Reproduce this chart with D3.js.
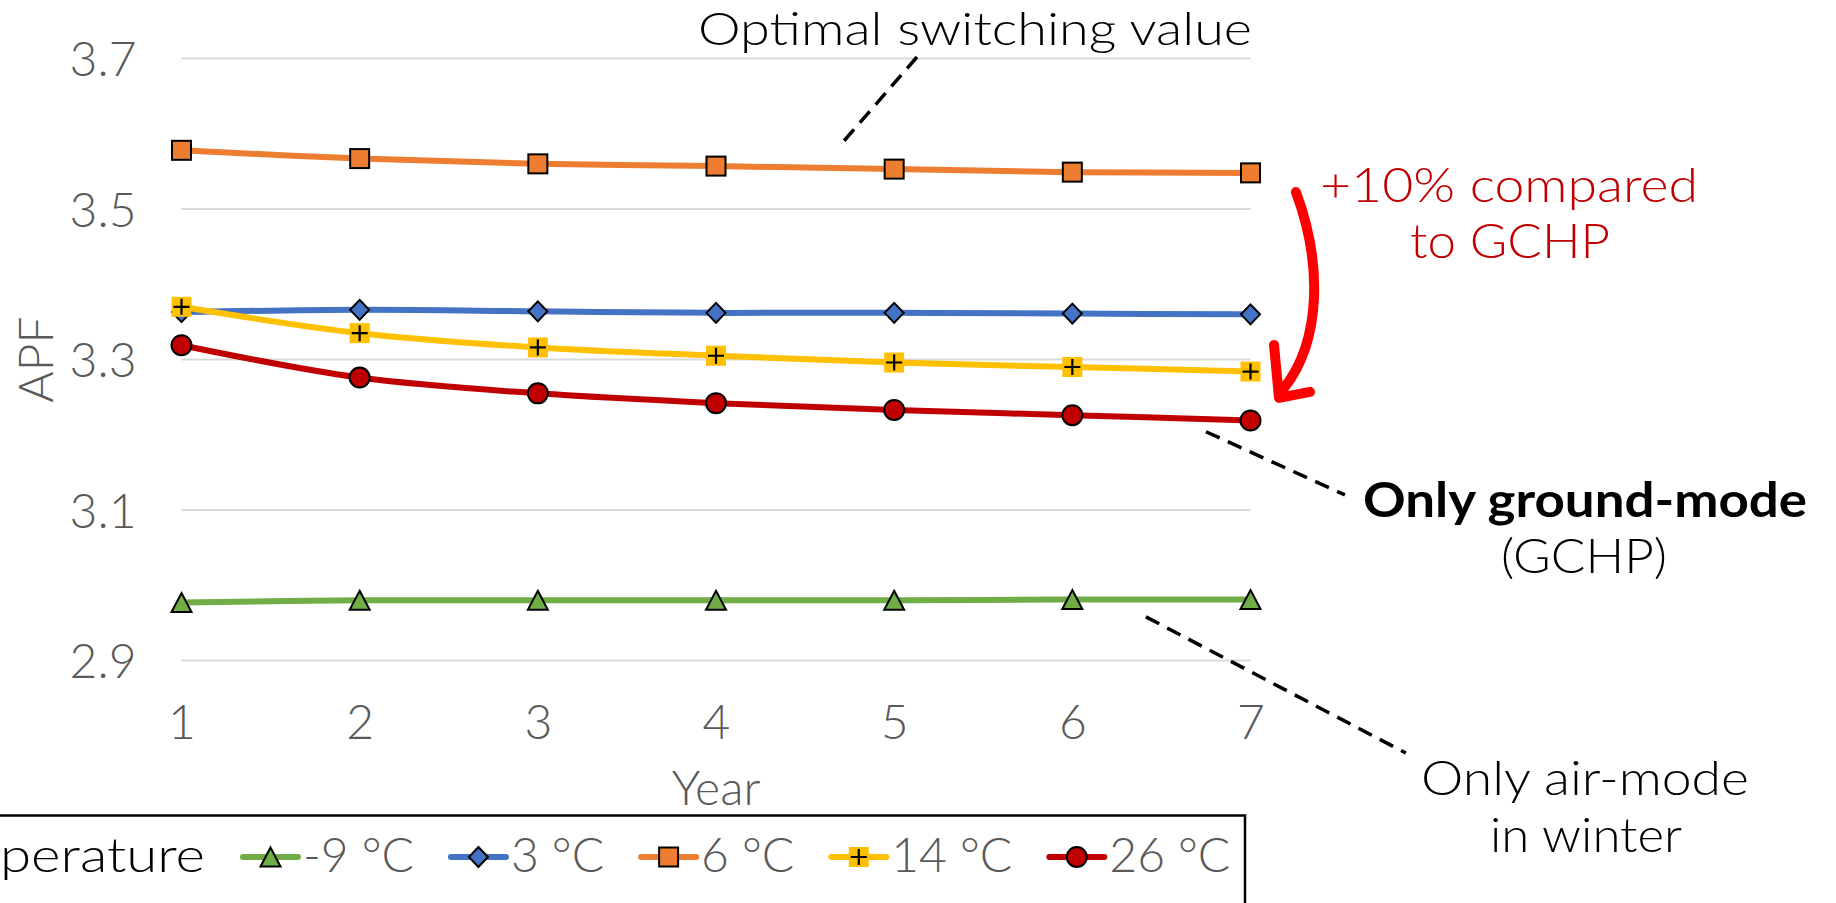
<!DOCTYPE html>
<html>
<head>
<meta charset="utf-8">
<script src="https://cdn.jsdelivr.net/npm/d3@7"></script>
<style>
  html, body { margin: 0; padding: 0; background: #fff; overflow: hidden; }
  svg { display: block; font-family: "Lato", "Liberation Sans", Arial, sans-serif; font-weight: 300; }
</style>
</head>
<body>
<svg id="chart" width="1836" height="903"></svg>
<script>
// ---- data ----
const years = [1, 2, 3, 4, 5, 6, 7];
const seriesNames = ["-9 °C", "3 °C", "6 °C", "14 °C", "26 °C"];
const apfMinus9 = [2.977, 2.980, 2.980, 2.980, 2.980, 2.981, 2.981];
const apf3      = [3.363, 3.366, 3.364, 3.362, 3.362, 3.361, 3.360];
const apf6      = [3.578, 3.567, 3.560, 3.557, 3.553, 3.549, 3.548];
const apf14     = [3.370, 3.335, 3.316, 3.305, 3.296, 3.290, 3.284];
const apf26     = [3.319, 3.276, 3.255, 3.242, 3.233, 3.226, 3.219];
const yTicks = [2.9, 3.1, 3.3, 3.5, 3.7];
const legendTitle = "Temperature";

const seriesValues = [apfMinus9, apf3, apf6, apf14, apf26];
const seriesColors = ["#70ad47", "#4472c4", "#ed7d31", "#ffc000", "#c00000"];
const seriesMarkers = ["triangle", "diamond", "square", "plus", "circle"];

const svg = d3.select("#chart");
svg.append("rect").attr("width", 1836).attr("height", 903).attr("fill", "#fff");

const x = d3.scaleLinear().domain([1, 7]).range([181.5, 1250.5]);
const y = d3.scaleLinear().domain([2.9, 3.7]).range([660.5, 58.5]);

const tickGrey = "#595959";
const FS = 48;

// gridlines
svg.append("g").selectAll("line").data(yTicks).join("line")
  .attr("x1", x(1)).attr("x2", x(7))
  .attr("y1", d => y(d)).attr("y2", d => y(d))
  .attr("stroke", "#d9d9d9").attr("stroke-width", 2);

// y axis labels
const yAxis = svg.append("g").attr("transform", `translate(${x(1)},0)`)
  .call(d3.axisLeft(y).tickValues(yTicks).tickSize(0).tickPadding(45).tickFormat(d3.format(".1f")));
yAxis.select(".domain").remove();
yAxis.attr("font-family", null);
yAxis.selectAll("text").attr("font-size", FS).attr("fill", tickGrey).attr("dy", "0.36em");

// x axis labels
const xAxis = svg.append("g").attr("transform", `translate(0,${y(2.9)})`)
  .call(d3.axisBottom(x).tickValues(years).tickSize(0).tickPadding(44).tickFormat(d3.format("d")));
xAxis.select(".domain").remove();
xAxis.attr("font-family", null);
xAxis.selectAll("text").attr("font-size", FS).attr("fill", tickGrey);

// axis titles
svg.append("text").attr("x", (x(1) + x(7)) / 2).attr("y", 805)
  .attr("text-anchor", "middle").attr("font-size", FS).attr("fill", tickGrey).text("Year");
svg.append("text").attr("transform", `translate(53,${(y(2.9) + y(3.7)) / 2}) rotate(-90)`)
  .attr("text-anchor", "middle").attr("font-size", FS).attr("fill", tickGrey).text("APF");

// marker painter
function drawMarker(g, type, color) {
  if (type === "triangle") {
    g.append("path").attr("d", "M0,-9.5L10,9.5L-10,9.5Z")
      .attr("fill", color).attr("stroke", "#000").attr("stroke-width", 2);
  } else if (type === "diamond") {
    g.append("path").attr("d", "M0,-10L9.5,0L0,10L-9.5,0Z")
      .attr("fill", color).attr("stroke", "#000").attr("stroke-width", 2);
  } else if (type === "square") {
    g.append("rect").attr("x", -9.5).attr("y", -9.5).attr("width", 19).attr("height", 19)
      .attr("fill", color).attr("stroke", "#000").attr("stroke-width", 2);
  } else if (type === "plus") {
    g.append("rect").attr("x", -10).attr("y", -10).attr("width", 20).attr("height", 20).attr("fill", color);
    g.append("path").attr("d", "M-8,0H8M0,-8V8").attr("stroke", "#000").attr("stroke-width", 2.2);
  } else {
    g.append("circle").attr("r", 10).attr("fill", color).attr("stroke", "#000").attr("stroke-width", 2);
  }
}

// series lines and markers
const line = d3.line().x((d, i) => x(years[i])).y(d => y(d)).curve(d3.curveCatmullRom.alpha(0.5));
seriesValues.forEach((vals, s) => {
  const g = svg.append("g");
  g.append("path").datum(vals).attr("d", line)
    .attr("fill", "none").attr("stroke", seriesColors[s]).attr("stroke-width", 6)
    .attr("stroke-linecap", "round");
  vals.forEach((v, i) => {
    const m = g.append("g").attr("transform", `translate(${x(years[i])},${y(v)})`);
    drawMarker(m, seriesMarkers[s], seriesColors[s]);
  });
});

// legend (box runs past the left and bottom edges of the page)
const legendTop = 815.5, legendMidY = 857, legendBaseY = 872;
svg.append("rect").attr("x", -20).attr("y", legendTop).attr("width", 1245 + 20).attr("height", 200)
  .attr("fill", "none").attr("stroke", "#000").attr("stroke-width", 2.5);
const title = svg.append("text").attr("x", 205).attr("y", legendBaseY).attr("text-anchor", "end")
  .attr("font-size", FS).attr("fill", "#000").text(legendTitle);
// widen the title slightly so its tail spans the same room as the wide face it stands in for
const tailProbe = svg.append("text").attr("font-size", FS).text("perature");
const tailW = tailProbe.node().getComputedTextLength();
tailProbe.remove();
const fullW = title.node().getComputedTextLength();
title.attr("textLength", fullW * 205 / tailW).attr("lengthAdjust", "spacingAndGlyphs");

let lx = 243;
seriesNames.forEach((name, s) => {
  const g = svg.append("g");
  g.append("line").attr("x1", lx).attr("x2", lx + 55).attr("y1", legendMidY).attr("y2", legendMidY)
    .attr("stroke", seriesColors[s]).attr("stroke-width", 6).attr("stroke-linecap", "round");
  drawMarker(g.append("g").attr("transform", `translate(${lx + 27.5},${legendMidY})`), seriesMarkers[s], seriesColors[s]);
  const t = g.append("text").attr("x", lx + 60).attr("y", legendBaseY)
    .attr("font-size", FS).attr("fill", tickGrey).text(name);
  lx = lx + 60 + t.node().getComputedTextLength() + 37;
});

// annotations: dashed leader lines (in data space)
const leaders = [
  [[5.128, 3.702], [4.702, 3.586]],
  [[6.750, 3.204], [7.530, 3.120]],
  [[6.413, 2.958], [7.872, 2.777]]
];
svg.append("g").selectAll("line").data(leaders).join("line")
  .attr("x1", d => x(d[0][0])).attr("y1", d => y(d[0][1]))
  .attr("x2", d => x(d[1][0])).attr("y2", d => y(d[1][1]))
  .attr("stroke", "#000").attr("stroke-width", 3.5).attr("stroke-dasharray", "15 9");

// curved red arrow
const arrowCurve = [[7.255, 3.5226], [7.401, 3.4296], [7.401, 3.326], [7.188, 3.262]];
const arrowHead = [[7.132, 3.3193], [7.160, 3.249], [7.334, 3.257]];
const P = d => [x(d[0]), y(d[1])];
const c = arrowCurve.map(P);
svg.append("path")
  .attr("d", `M${c[0]}C${c[1]} ${c[2]} ${c[3]}`)
  .attr("fill", "none").attr("stroke", "#ff0000").attr("stroke-width", 10).attr("stroke-linecap", "round");
svg.append("path")
  .attr("d", "M" + arrowHead.map(P).join("L"))
  .attr("fill", "none").attr("stroke", "#ff0000").attr("stroke-width", 10)
  .attr("stroke-linecap", "round").attr("stroke-linejoin", "round");

// annotation texts
function note(txt, xPos, yPos, opts) {
  const t = svg.append("text").attr("x", xPos).attr("y", yPos)
    .attr("text-anchor", opts.anchor || "middle")
    .attr("font-size", opts.size).attr("fill", opts.color || "#000")
    .attr("font-weight", opts.weight || 300).text(txt);
  if (opts.len) t.attr("textLength", opts.len).attr("lengthAdjust", "spacingAndGlyphs");
  return t;
}
note("Optimal switching value", 1252, 45, { anchor: "end", size: 45, len: 554 });
note("+10% compared", 1509, 202, { size: 48, color: "#c00000", len: 378 });
note("to GCHP", 1510, 258, { size: 48, color: "#c00000", len: 200 });
note("Only ground-mode", 1585, 517, { size: 47, weight: "bold", len: 444 });
note("(GCHP)", 1584, 573, { size: 47, len: 166 });
note("Only air-mode", 1585, 795, { size: 47, len: 328 });
note("in winter", 1586, 852, { size: 47, len: 192 });
</script>
</body>
</html>
